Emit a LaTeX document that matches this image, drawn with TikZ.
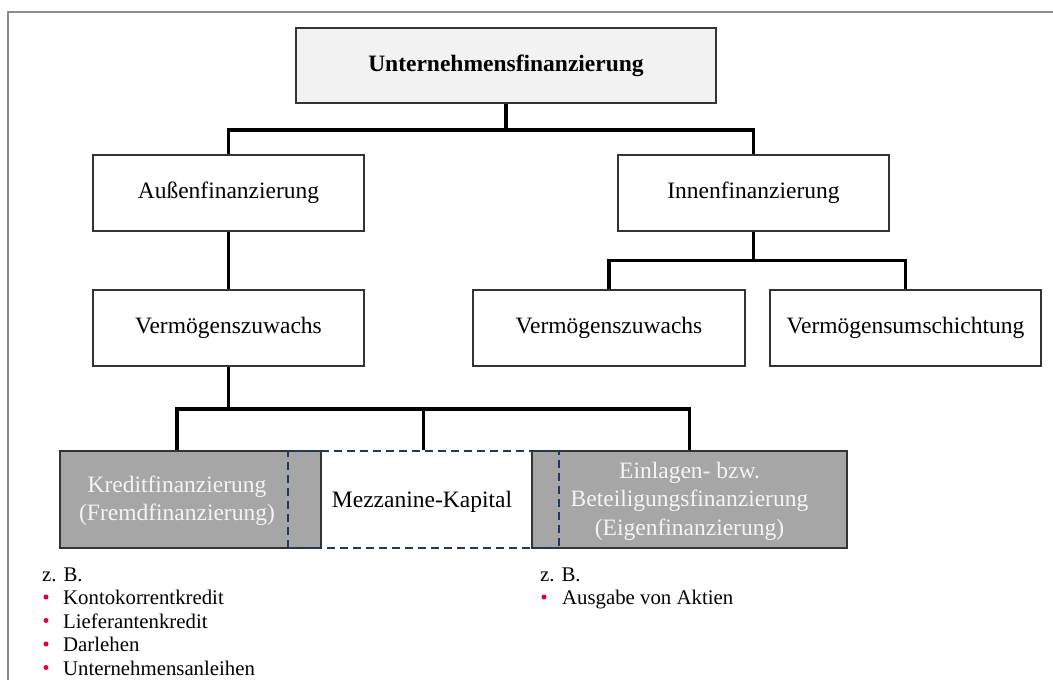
\documentclass[tikz,border=0pt]{standalone}
\usepackage{fontspec}
\setmainfont{Liberation Serif}
\definecolor{boxline}{HTML}{333333}
\definecolor{topfill}{HTML}{F2F2F2}
\definecolor{darkfill}{HTML}{A6A6A6}
\definecolor{lighttext}{HTML}{F4F4F4}
\definecolor{mezzline}{HTML}{1F3864}
\definecolor{framegray}{HTML}{8C8C8C}
\definecolor{bulletred}{HTML}{E2003A}
\begin{document}
\begin{tikzpicture}[x=1pt,y=-1pt,
  box/.style={draw=boxline, line width=1.4pt, fill=white, inner sep=0pt,
    align=center, font=\fontsize{23.5}{28.5}\selectfont},
  darkbox/.style={box, fill=darkfill},
  darktext/.style={inner sep=0pt, align=center, text=lighttext,
    font=\fontsize{23.5}{28.5}\selectfont},
  mezzbox/.style={draw=mezzline, line width=2.3pt, dash pattern=on 8pt off 5pt,
    inner sep=0pt, font=\fontsize{23.5}{28.5}\selectfont},
  conn/.style={line width=3.6pt, line join=miter, draw=black},
  listtxt/.style={inner sep=0pt, anchor=base west, font=\fontsize{20.8}{25}\selectfont},
  dot/.style={circle, fill=bulletred, inner sep=0pt, minimum size=5pt}]
\useasboundingbox (0,0) rectangle (1053,680);
\fill[white] (0,0) rectangle (1053,680);
% frame
\draw[framegray, line width=1.2pt] (8,690) -- (8,12) -- (1060,12);

% tree boxes
\node[box, fill=topfill, minimum width=420pt, minimum height=75pt,
  font=\fontsize{23.5}{28.5}\selectfont\bfseries] (top) at (506,65.5) {Unternehmensfinanzierung};
\node[box, minimum width=271pt, minimum height=76pt] (aussen) at (228.5,193) {Außenfinanzierung};
\node[box, minimum width=271pt, minimum height=76pt] (innen) at (753.5,193) {Innenfinanzierung};
\node[box, minimum width=271pt, minimum height=76pt] (vzl) at (228.5,328) {Vermögenszuwachs};
\node[box, minimum width=272pt, minimum height=76pt] (vzr) at (609,328) {Vermögenszuwachs};
\node[box, minimum width=271pt, minimum height=76pt] (vu) at (905.5,328) {Vermögensumschichtung};

% financing types
\node[darkbox, minimum width=261pt, minimum height=97pt] (kredit) at (190.5,499.5) {};
\node[darktext] (kredittext) at (177,501) {Kreditfinanzierung\\(Fremdfinanzierung)};
\node[darkbox, minimum width=315pt, minimum height=97pt] (einlagen) at (689.5,499.5) {};
\node[darktext] (einlagentext) at (689.5,501) {Einlagen- bzw.\\Beteiligungsfinanzierung\\(Eigenfinanzierung)};
\node[mezzbox, minimum width=271pt, minimum height=97pt] (mezz) at (423.5,499.5) {};
\node[inner sep=0pt, font=\fontsize{23.5}{28.5}\selectfont] (mezztext) at (422,502) {Mezzanine-Kapital};

% connectors
\coordinate (bus1) at (506,130);
\coordinate (bus2) at (753.5,260.5);
\coordinate (bus3) at (228.5,409);
\draw[conn] (top.south) -- (bus1);
\draw[conn] (aussen.north) |- (bus1) -| (innen.north);
\draw[conn] (aussen.south) -- (vzl.north);
\draw[conn] (innen.south) -- (bus2);
\draw[conn] (vzr.north) |- (bus2) -| (vu.north);
\draw[conn] (vzl.south) -- (bus3);
\draw[conn] (kredittext |- kredit.north) |- (bus3) -| (einlagen.north);
\draw[conn] (mezz.north) -- (mezz.north |- bus3);

% examples
\node[listtxt] (zbl) at (42,581) {z. B.};
\node[dot] (d1) at (46,597) {};
\node[listtxt] (l1) at (63,604.5) {Kontokorrentkredit};
\node[dot] (d2) at (46,620.5) {};
\node[listtxt] (l2) at (63,628) {Lieferantenkredit};
\node[dot] (d3) at (46,644) {};
\node[listtxt] (l3) at (63,651.5) {Darlehen};
\node[dot] (d4) at (46,667.5) {};
\node[listtxt] (l4) at (63,675) {Unternehmensanleihen};

\node[listtxt] (zbr) at (540,581) {z. B.};
\node[dot] (d5) at (544,597) {};
\node[listtxt] (r1) at (562,604.5) {Ausgabe von Aktien};
\end{tikzpicture}
\end{document}
